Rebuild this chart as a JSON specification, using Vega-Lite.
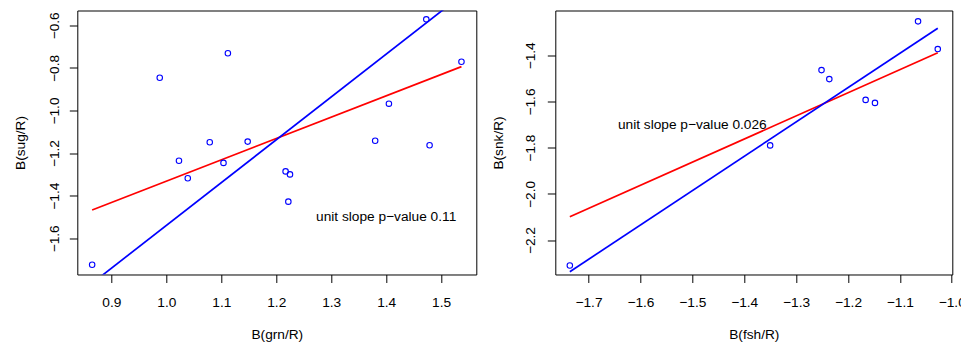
{
  "$schema": "https://vega.github.io/schema/vega-lite/v6.json",
  "padding": {"left": 12.3, "top": 9.5, "right": 0, "bottom": 0},
  "spacing": 13,
  "config": {
    "font": "Liberation Sans",
    "view": {"stroke": "#000000", "strokeWidth": 1},
    "axis": {
      "grid": false, "domain": false, "tickColor": "#000000", "tickSize": 8, "tickWidth": 1,
      "labelColor": "#000000", "titleColor": "#000000", "labelFontSize": 13.7, "titleFontSize": 13.7,
      "titleFontWeight": "normal", "labelFlush": false, "labelOverlap": false, "labelFont": "Liberation Sans", "titleFont": "Liberation Sans"
    },
    "axisX": {"labelPadding": 13, "titlePadding": 18},
    "axisY": {"labelAngle": -90, "labelAlign": "center", "labelBaseline": "bottom", "labelPadding": 8, "titlePadding": 20}
  },
  "datasets": {
    "pts1": [
      {"x": 0.865, "y": -1.724}, {"x": 0.988, "y": -0.846}, {"x": 1.023, "y": -1.236}, {"x": 1.039, "y": -1.318},
      {"x": 1.079, "y": -1.149}, {"x": 1.104, "y": -1.246}, {"x": 1.112, "y": -0.731}, {"x": 1.148, "y": -1.146},
      {"x": 1.217, "y": -1.286}, {"x": 1.225, "y": -1.300}, {"x": 1.222, "y": -1.428}, {"x": 1.380, "y": -1.142},
      {"x": 1.405, "y": -0.968}, {"x": 1.473, "y": -0.572}, {"x": 1.479, "y": -1.163}, {"x": 1.537, "y": -0.771}
    ],
    "lines1": [
      {"x": 0.865, "y": -1.467, "line": "unit"}, {"x": 1.537, "y": -0.794, "line": "unit"},
      {"x": 0.865, "y": -1.811, "line": "fit"}, {"x": 1.537, "y": -0.460, "line": "fit"}
    ],
    "pts2": [
      {"x": -1.736, "y": -2.310}, {"x": -1.350, "y": -1.790}, {"x": -1.251, "y": -1.464}, {"x": -1.236, "y": -1.503},
      {"x": -1.166, "y": -1.593}, {"x": -1.148, "y": -1.606}, {"x": -1.065, "y": -1.253}, {"x": -1.027, "y": -1.373}
    ],
    "lines2": [
      {"x": -1.736, "y": -2.099, "line": "unit"}, {"x": -1.027, "y": -1.389, "line": "unit"},
      {"x": -1.736, "y": -2.337, "line": "fit"}, {"x": -1.027, "y": -1.283, "line": "fit"}
    ],
    "txt1": [{"x": 1.4, "y": -1.5, "label": "unit slope p−value 0.11"}],
    "txt2": [{"x": -1.5, "y": -1.7, "label": "unit slope p−value 0.026"}]
  },
  "hconcat": [
    {
      "width": 399, "height": 264,
      "layer": [
        {
          "data": {"name": "lines1"},
          "mark": {"type": "line", "clip": true, "strokeWidth": 1.7},
          "encoding": {
            "x": {"field": "x", "type": "quantitative", "scale": {"domain": [0.838, 1.564], "nice": false, "zero": false},
                  "axis": {"values": [0.9, 1.0, 1.1, 1.2, 1.3, 1.4, 1.5], "format": ".1f", "title": "B(grn/R)"}},
            "y": {"field": "y", "type": "quantitative", "scale": {"domain": [-1.770, -0.5305], "nice": false, "zero": false},
                  "axis": {"values": [-1.6, -1.4, -1.2, -1.0, -0.8, -0.6], "format": ".1f", "title": "B(sug/R)"}},
            "detail": {"field": "line"},
            "color": {"field": "line", "type": "nominal", "scale": {"domain": ["unit", "fit"], "range": ["#ff0000", "#0000ff"]}, "legend": null}
          }
        },
        {
          "data": {"name": "pts1"},
          "mark": {"type": "point", "shape": "circle", "filled": false, "color": "#0000ff", "size": 30, "strokeWidth": 1.1, "opacity": 1},
          "encoding": {
            "x": {"field": "x", "type": "quantitative"},
            "y": {"field": "y", "type": "quantitative"}
          }
        },
        {
          "data": {"name": "txt1"},
          "mark": {"type": "text", "fontSize": 13.7, "align": "center", "baseline": "middle", "color": "#000000", "font": "Liberation Sans"},
          "encoding": {
            "x": {"field": "x", "type": "quantitative"},
            "y": {"field": "y", "type": "quantitative"},
            "text": {"field": "label"}
          }
        }
      ]
    },
    {
      "width": 397, "height": 264,
      "layer": [
        {
          "data": {"name": "lines2"},
          "mark": {"type": "line", "clip": true, "strokeWidth": 1.7},
          "encoding": {
            "x": {"field": "x", "type": "quantitative", "scale": {"domain": [-1.764, -0.999], "nice": false, "zero": false},
                  "axis": {"values": [-1.7, -1.6, -1.5, -1.4, -1.3, -1.2, -1.1, -1.0], "format": ".1f", "title": "B(fsh/R)"}},
            "y": {"field": "y", "type": "quantitative", "scale": {"domain": [-2.349, -1.206], "nice": false, "zero": false},
                  "axis": {"values": [-2.2, -2.0, -1.8, -1.6, -1.4], "format": ".1f", "title": "B(snk/R)", "labelPadding": 10, "titlePadding": 18}},
            "detail": {"field": "line"},
            "color": {"field": "line", "type": "nominal", "scale": {"domain": ["unit", "fit"], "range": ["#ff0000", "#0000ff"]}, "legend": null}
          }
        },
        {
          "data": {"name": "pts2"},
          "mark": {"type": "point", "shape": "circle", "filled": false, "color": "#0000ff", "size": 30, "strokeWidth": 1.1, "opacity": 1},
          "encoding": {
            "x": {"field": "x", "type": "quantitative"},
            "y": {"field": "y", "type": "quantitative"}
          }
        },
        {
          "data": {"name": "txt2"},
          "mark": {"type": "text", "fontSize": 13.7, "align": "center", "baseline": "middle", "color": "#000000", "font": "Liberation Sans"},
          "encoding": {
            "x": {"field": "x", "type": "quantitative"},
            "y": {"field": "y", "type": "quantitative"},
            "text": {"field": "label"}
          }
        }
      ]
    }
  ],
  "resolve": {"scale": {"color": "independent"}}
}
